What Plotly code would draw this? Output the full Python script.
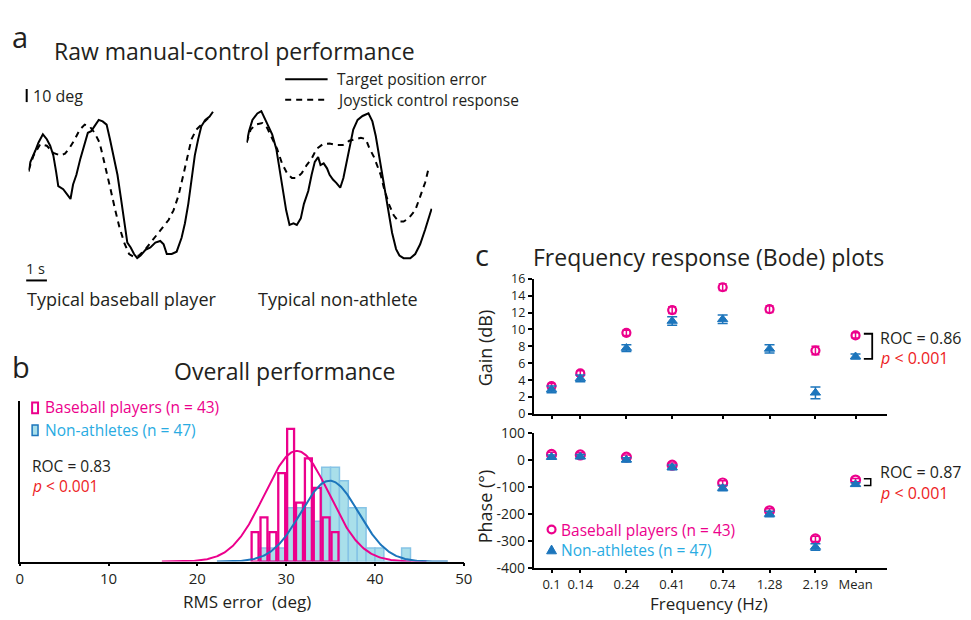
import numpy as np
import plotly.graph_objects as go

# ---------------- Panel a: raw traces (time in s, angle in deg) ----------------
bb_target_t = [0.00, 0.09, 0.34, 0.50, 0.72, 0.92, 1.09, 1.25, 1.39, 1.50, 1.75, 2.00, 2.12, 2.25, 2.42, 2.62,
               2.84, 3.00, 3.17, 3.34, 3.55, 3.75, 3.95, 4.12, 4.34, 4.50, 4.67, 4.84, 5.00, 5.17, 5.34, 5.50,
               5.67, 5.92, 6.17, 6.42, 6.67, 6.84, 7.00, 7.25, 7.50, 7.75, 7.92, 8.09, 8.25, 8.42, 8.59, 8.75,
               8.95, 9.17, 9.34]
bb_target = [67.0, 74.5, 83.3, 89.5, 95.8, 92.0, 87.0, 79.5, 67.0, 55.7, 53.3, 48.2, 45.8, 57.0, 64.5, 77.0,
             89.5, 97.0, 98.3, 102.0, 107.0, 105.8, 103.3, 92.0, 77.0, 64.5, 47.0, 29.5, 12.0, 8.3, 3.2, 0.0,
             2.0, 6.5, 8.3, 12.0, 13.3, 10.7, 3.2, 3.2, 5.0, 15.8, 27.0, 42.0, 62.0, 79.5, 92.0, 102.0,
             107.0, 109.5, 113.3]
bb_joy_t = [0.00, 0.25, 0.59, 0.92, 1.25, 1.59, 1.84, 2.09, 2.34, 2.59, 2.84, 3.09, 3.34, 3.59, 3.75, 3.95,
            4.17, 4.39, 4.59, 4.84, 5.09, 5.34, 5.59, 5.92, 6.25, 6.50, 6.75, 7.09, 7.34, 7.59, 7.84, 8.05,
            8.25, 8.50, 8.75, 9.09]
bb_joy = [68.3, 79.5, 88.3, 87.0, 81.5, 79.5, 80.8, 85.7, 92.0, 99.5, 103.3, 102.0, 97.0, 89.5, 79.5, 67.0,
          52.0, 37.0, 24.5, 12.0, 3.2, 0.8, 2.0, 7.0, 13.3, 18.2, 23.3, 29.5, 37.0, 48.2, 64.5, 79.5,
          92.0, 99.5, 103.3, 108.2]

na_target_t = [0.00, 0.12, 0.29, 0.54, 0.74, 0.87, 1.07, 1.29, 1.50, 1.67, 1.84, 2.00, 2.17, 2.37, 2.54, 2.74,
               2.90, 3.12, 3.29, 3.45, 3.62, 3.74, 3.90, 4.07, 4.20, 4.37, 4.54, 4.74, 4.90, 5.07, 5.24, 5.40,
               5.62, 5.87, 6.17, 6.37, 6.54, 6.70, 6.87, 7.04, 7.20, 7.37, 7.57, 7.74, 7.95, 8.29, 8.54, 8.79,
               9.04, 9.20, 9.37]
na_target = [89.5, 98.3, 107.0, 112.0, 113.8, 109.5, 103.3, 95.8, 84.5, 69.5, 52.0, 37.0, 25.7, 27.0, 25.7, 30.8,
             42.0, 52.0, 64.5, 74.5, 78.2, 72.0, 73.3, 69.5, 64.5, 60.8, 58.3, 54.5, 62.0, 74.5, 88.3, 99.5,
             107.0, 110.0, 112.0, 105.8, 94.5, 79.5, 64.5, 47.0, 32.0, 19.5, 7.0, 2.0, 0.0, 0.0, 3.2, 10.7,
             22.0, 29.5, 38.2]
na_joy_t = [0.00, 0.20, 0.45, 0.79, 1.04, 1.29, 1.54, 1.79, 2.04, 2.29, 2.54, 2.79, 3.04, 3.29, 3.54, 3.87,
            4.20, 4.54, 4.87, 5.20, 5.54, 5.79, 6.04, 6.20, 6.45, 6.62, 6.79, 6.95, 7.20, 7.45, 7.70, 7.95,
            8.20, 8.54, 8.79, 9.04, 9.20]
na_joy = [89.5, 99.5, 103.3, 104.5, 100.7, 93.2, 84.5, 73.3, 65.8, 62.0, 62.0, 65.8, 72.0, 77.0, 84.5, 88.3,
          88.7, 87.5, 87.5, 90.8, 92.5, 93.2, 92.0, 85.7, 78.2, 72.0, 64.5, 54.5, 42.0, 33.2, 28.3, 28.3,
          30.8, 37.0, 47.0, 58.3, 68.3]

# ---------------- Panel b: histogram of RMS error ----------------
bb_bin_left = [26, 27, 28, 29, 30, 31, 32, 33, 34, 35]
bb_counts = [2, 3, 2, 6, 9, 4, 7, 5, 3, 2]
na_bin_left = [27, 28, 29, 30, 31, 32, 33, 34, 35, 36, 37, 38, 39, 40, 41, 42, 43]
na_counts = [1, 1, 1, 4, 4, 4, 3, 7, 7, 6, 4, 4, 1, 1, 0, 0, 1]
n_bb, n_na = 43, 47
# fitted normal curves: [mean, sd, peak (fraction), x start, x end]
bb_fit = [31.2, 3.65, 0.1747, 16.0, 45.8]
na_fit = [34.9, 3.25, 0.1276, 22.2, 48.2]
hist_ticks = [0, 10, 20, 30, 40, 50]

# ---------------- Panel c: Bode plots ----------------
freq_labels = ["0.1", "0.14", "0.24", "0.41", "0.74", "1.28", "2.19", "Mean"]
freq_pos = [0.1, 0.14, 0.24, 0.41, 0.74, 1.28, 2.19, 3.5]
gain_bb = [3.3, 4.8, 9.6, 12.3, 15.0, 12.4, 7.5, 9.3]
gain_bb_err = [0.3, 0.3, 0.3, 0.4, 0.4, 0.4, 0.5, 0.3]
gain_na = [2.9, 4.2, 7.8, 11.0, 11.2, 7.7, 2.5, 6.8]
gain_na_err = [0.4, 0.4, 0.4, 0.5, 0.5, 0.5, 0.7, 0.3]
phase_bb = [22, 20, 12, -18, -84, -187, -291, -73]
phase_bb_err = [8, 8, 8, 8, 8, 8, 10, 6]
phase_na = [12, 14, 2, -26, -103, -199, -321, -89]
phase_na_err = [8, 8, 8, 9, 10, 10, 12, 6]
gain_ticks = [0, 2, 4, 6, 8, 10, 12, 14, 16]
phase_ticks = [100, 0, -100, -200, -300, -400]

# ---------------- styling ----------------
W, H = 971, 620
FONT = "Open Sans"
BLACK = "#231f20"
PINK = "#ec008c"
BLUE = "#1c75bc"
CYAN = "#29abe2"
LIGHT = "#a9dfea"
RED = "#ed1c24"


def px(x):
    return x / W


def py(y):
    return 1 - y / H


fig = go.Figure()

# panel a traces
fig.add_trace(go.Scatter(x=bb_target_t, y=bb_target, xaxis="x", yaxis="y", mode="lines",
                         line=dict(color="black", width=2)))
fig.add_trace(go.Scatter(x=bb_joy_t, y=bb_joy, xaxis="x", yaxis="y", mode="lines",
                         line=dict(color="black", width=2, dash="6px,5px")))
fig.add_trace(go.Scatter(x=na_target_t, y=na_target, xaxis="x2", yaxis="y2", mode="lines",
                         line=dict(color="black", width=2)))
fig.add_trace(go.Scatter(x=na_joy_t, y=na_joy, xaxis="x2", yaxis="y2", mode="lines",
                         line=dict(color="black", width=2, dash="6px,5px")))

# panel b histogram
fig.add_trace(go.Bar(x=[b + 0.5 for b in na_bin_left], y=[c / n_na for c in na_counts], width=1.0,
                     xaxis="x3", yaxis="y3",
                     marker=dict(color=LIGHT, line=dict(color="#86c4e6", width=1.5))))
fig.add_trace(go.Bar(x=[b + 0.5 for b in bb_bin_left], y=[c / n_bb for c in bb_counts], width=0.78,
                     xaxis="x3", yaxis="y3",
                     marker=dict(color="rgba(0,0,0,0)", line=dict(color=PINK, width=2.3))))
for fit, col in ((bb_fit, PINK), (na_fit, BLUE)):
    mu, sd, peak, x0, x1 = fit
    xs = np.linspace(x0, x1, 300)
    ys = peak * np.exp(-0.5 * ((xs - mu) / sd) ** 2)
    fig.add_trace(go.Scatter(x=xs, y=ys, xaxis="x3", yaxis="y3", mode="lines", cliponaxis=False,
                             line=dict(color=col, width=2)))

# panel c gain
fig.add_trace(go.Scatter(x=freq_pos, y=gain_bb, xaxis="x4", yaxis="y4", mode="markers",
                         marker=dict(symbol="circle-open", size=8, color=PINK, line=dict(width=2.2)),
                         error_y=dict(type="data", array=gain_bb_err, color=PINK, thickness=1.5, width=4)))
fig.add_trace(go.Scatter(x=freq_pos, y=gain_na, xaxis="x4", yaxis="y4", mode="markers",
                         marker=dict(symbol="triangle-up", size=9, color=BLUE, line=dict(width=1, color=BLUE)),
                         error_y=dict(type="data", array=gain_na_err, color=BLUE, thickness=1.5, width=5)))
# panel c phase
fig.add_trace(go.Scatter(x=freq_pos, y=phase_bb, xaxis="x5", yaxis="y5", mode="markers",
                         marker=dict(symbol="circle-open", size=9, color=PINK, line=dict(width=2.2)),
                         error_y=dict(type="data", array=phase_bb_err, color=PINK, thickness=1.5, width=4)))
fig.add_trace(go.Scatter(x=freq_pos, y=phase_na, xaxis="x5", yaxis="y5", mode="markers",
                         marker=dict(symbol="triangle-up", size=9, color=BLUE, line=dict(width=1, color=BLUE)),
                         error_y=dict(type="data", array=phase_na_err, color=BLUE, thickness=1.5, width=5)))

hidden = dict(visible=False, showgrid=False, zeroline=False)
logrange = [-1.090, 0.704]

fig.update_layout(
    width=W, height=H, autosize=False, showlegend=False,
    margin=dict(l=0, r=0, t=0, b=0),
    paper_bgcolor="white", plot_bgcolor="rgba(0,0,0,0)",
    barmode="overlay",
    font=dict(family=FONT, color=BLACK),
    xaxis=dict(domain=[px(25), px(213)], range=[0, 9.4], anchor="y", **hidden),
    yaxis=dict(domain=[py(258), py(103)], range=[-1.5, 114.75], anchor="x", **hidden),
    xaxis2=dict(domain=[px(246), px(434)], range=[0, 9.4], anchor="y2", **hidden),
    yaxis2=dict(domain=[py(258), py(103)], range=[-1.5, 114.75], anchor="x2", **hidden),
    xaxis3=dict(domain=[px(16), px(466)], range=[0, 50], anchor="y3", showline=True, linecolor="black",
                linewidth=1.5, ticks="outside", ticklen=3, tickcolor="black", tickwidth=1.5,
                tickvals=hist_ticks, ticktext=[str(v) for v in hist_ticks], ticklabelstandoff=0,
                tickfont=dict(family=FONT, size=15, color=BLACK),
                showgrid=False, zeroline=False, layer="below traces"),
    yaxis3=dict(domain=[py(569), py(403)], range=[0, 0.254], anchor="x3", showline=True, linecolor="black",
                linewidth=1.5, showticklabels=False, ticks="", showgrid=False, zeroline=False),
    xaxis4=dict(type="log", domain=[px(537), px(895)], range=logrange, anchor="y4", showline=True,
                linecolor="black", linewidth=2, ticks="outside", ticklen=3, tickwidth=1.5, tickcolor="black",
                tickvals=freq_pos, showticklabels=False, showgrid=False, zeroline=False),
    yaxis4=dict(domain=[py(416.7), py(277.3)], range=[0, 16], anchor="x4", showline=True, linecolor="black",
                linewidth=2, ticks="outside", ticklen=4, tickwidth=1.5, tickcolor="black",
                tickvals=gain_ticks, ticktext=[str(v) for v in gain_ticks],
                tickfont=dict(family=FONT, size=12.5, color=BLACK),
                showgrid=False, zeroline=False),
    xaxis5=dict(type="log", domain=[px(537), px(895)], range=logrange, anchor="y5", showline=True,
                linecolor="black", linewidth=2, ticks="outside", ticklen=3, tickwidth=1.5, tickcolor="black",
                tickvals=freq_pos, ticktext=freq_labels, ticklabelstandoff=0,
                tickfont=dict(family=FONT, size=13, color=BLACK), showgrid=False, zeroline=False),
    yaxis5=dict(domain=[py(576), py(436.7)], range=[-400, 100], anchor="x5", showline=True, linecolor="black",
                linewidth=2, ticks="outside", ticklen=4, tickwidth=1.5, tickcolor="black",
                tickvals=phase_ticks, ticktext=[str(v) for v in phase_ticks],
                tickfont=dict(family=FONT, size=14, color=BLACK),
                showgrid=False, zeroline=False),
)

anns = []


def ann(text, x, y, size, color=BLACK, xanchor="left", angle=0):
    anns.append(dict(text=text, x=px(x), y=py(y), xref="paper", yref="paper", showarrow=False,
                     xanchor=xanchor, yanchor="middle", textangle=angle, borderpad=0,
                     font=dict(family=FONT, size=size, color=color)))


# panel letters and titles
ann("a", 7, 27, 29)
ann("Raw manual-control performance", 50, 42, 23)
ann("b", 7, 368, 29)
ann("Overall performance", 285, 372, 23, xanchor="center")
ann("c", 476, 252, 29)
ann("Frequency response (Bode) plots", 714, 255, 23, xanchor="center")

# panel a labels
ann("10 deg", 28, 89, 16)
ann("1 s", 21.5, 267, 14.5)
ann("Target position error", 336, 71.5, 15.5)
ann("Joystick control response", 336, 92.5, 15.5)
ann("Typical baseball player", 119, 298, 18, xanchor="center")
ann("Typical non-athlete", 339, 298, 18, xanchor="center")

# panel b labels
ann("Baseball players (n = 43)", 40.5, 410, 15.5, PINK)
ann("Non-athletes (n = 47)", 40.5, 433, 15.5, CYAN)
ann("ROC = 0.83", 27, 470, 15.5)
ann("<i>p</i> &lt; 0.001", 27, 491, 15.5, RED)
ann("RMS error\u00a0 (deg)", 246, 610, 17, xanchor="center")

# panel c labels
ann("Gain (dB)", 487.5, 348, 18, xanchor="center", angle=-90)
ann("Phase (°)", 487.5, 512, 18, xanchor="center", angle=-90)
ann("Frequency (Hz)", 715, 612, 17, xanchor="center")
ann("ROC = 0.86", 887, 338, 16)
ann("<i>p</i> &lt; 0.001", 887, 359.5, 16, RED)
ann("ROC = 0.87", 887, 477, 16)
ann("<i>p</i> &lt; 0.001", 887, 498.5, 16, RED)
ann("Baseball players (n = 43)", 564, 536, 15.5, PINK)
ann("Non-athletes (n = 47)", 564, 557, 15.5, CYAN)

shapes = []


def line(x0, y0, x1, y1, color="black", width=2, dash=None):
    d = dict(type="line", xref="paper", yref="paper", x0=px(x0), y0=py(y0), x1=px(x1), y1=py(y1),
             line=dict(color=color, width=width))
    if dash:
        d["line"]["dash"] = dash
    shapes.append(d)


def path(points, color="black", width=1.5, fill=None, closed=False):
    s = "M " + " L ".join(f"{px(a):.5f},{py(b):.5f}" for a, b in points)
    if closed:
        s += " Z"
    shapes.append(dict(type="path", xref="paper", yref="paper", path=s,
                       line=dict(color=color, width=width), fillcolor=fill or "rgba(0,0,0,0)"))


# scale bars
line(23, 81.5, 23, 95, width=2)
line(22.5, 279, 43.5, 279, width=2)
# panel a legend samples
line(285, 71.5, 328, 71.5, width=2)
line(285, 92.5, 328, 92.5, width=2, dash="6px,5px")
# panel b legend boxes
shapes.append(dict(type="rect", xref="paper", yref="paper", x0=px(28.5), x1=px(34.5), y0=py(416), y1=py(405),
                   line=dict(color=PINK, width=2), fillcolor="rgba(0,0,0,0)"))
shapes.append(dict(type="rect", xref="paper", yref="paper", x0=px(28.5), x1=px(34.5), y0=py(439), y1=py(428),
                   line=dict(color=BLUE, width=1.5), fillcolor=LIGHT))
# brackets
path([(871.5, 334), (880, 334), (880, 360), (871.5, 360)], width=1.8)
path([(871.5, 483.5), (878.5, 483.5), (878.5, 490.5), (871.5, 490.5)], width=1.5)
# phase legend symbols
shapes.append(dict(type="circle", xref="paper", yref="paper", x0=px(551), x1=px(559), y0=py(540), y1=py(532),
                   line=dict(color=PINK, width=2.2)))
path([(550, 561), (560, 561), (555, 552)], color=BLUE, width=1, fill=BLUE, closed=True)

fig.update_layout(annotations=anns, shapes=shapes)
fig.write_html("out.html")
